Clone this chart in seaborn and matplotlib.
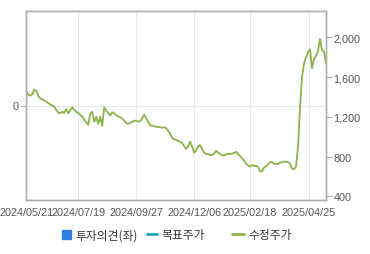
import matplotlib
matplotlib.use("Agg")
import matplotlib.pyplot as plt
import seaborn as sns
import pandas as pd
from matplotlib.lines import Line2D
from matplotlib.patches import Patch

# ---- data ----
price = [1464, 1420, 1414, 1425, 1475, 1460, 1410, 1385, 1375, 1365,
         1352, 1340, 1325, 1315, 1300, 1270, 1240, 1238, 1250, 1240,
         1280, 1235, 1265, 1297, 1270, 1250, 1240, 1220, 1200, 1170,
         1145, 1120, 1230, 1250, 1150, 1200, 1130, 1200, 1110, 1297,
         1260, 1240, 1212, 1245, 1235, 1215, 1205, 1196, 1185, 1160,
         1140, 1129, 1140, 1150, 1160, 1162, 1150, 1158, 1185, 1220,
         1185, 1150, 1115, 1112, 1105, 1098, 1100, 1095, 1090, 1095,
         1085, 1060, 1025, 990, 975, 968, 958, 948, 935, 905,
         877, 905, 950, 900, 840, 860, 905, 915, 878, 840,
         826, 825, 815, 815, 830, 858, 840, 828, 812, 812,
         825, 828, 826, 830, 838, 848, 825, 803, 785, 758,
         728, 712, 700, 715, 705, 708, 695, 650, 652, 690,
         702, 722, 742, 745, 728, 728, 725, 738, 745, 750,
         748, 745, 728, 680, 672, 700, 900, 1300, 1600, 1734,
         1800, 1850, 1880, 1690, 1780, 1815, 1860, 1986, 1870, 1860,
         1734]
tick_pos = [0, 26, 55, 84, 112, 141.5]
tick_labels = ["2024/05/21", "2024/07/19", "2024/09/27", "2024/12/06",
               "2025/02/18", "2025/04/25"]
right_ticks = [400, 800, 1200, 1600, 2000]
right_tick_labels = ["400", "800", "1,200", "1,600", "2,000"]
legend_labels = ["투자의견(좌)", "목표주가", "수정주가"]

df = pd.DataFrame({"idx": range(len(price)), "price": price})

sns.set_style("white")
plt.rcParams["font.family"] = ["Noto Sans CJK KR", "DejaVu Sans"]

W, H = 370, 255
fig = plt.figure(figsize=(3.7, 2.55), dpi=100)
ax = fig.add_axes([26.3 / W, 1 - 200.7 / H, (326 - 26.3) / W, (200.7 - 12.3) / H])
ax2 = ax.twinx()

line_color = "#8db34a"
sns.lineplot(data=df, x="idx", y="price", ax=ax2, color=line_color, linewidth=1.3)

edge = "#b0b0b0"
tick_col = "#555555"

ax.set_xlim(0, len(price) - 1)
ax.set_ylim(-1, 1)
ax.set_yticks([0])
ax.set_yticklabels(["0"])
ax.set_xticks(tick_pos)
ax.set_xticklabels(tick_labels)
ax.grid(True, color="#e6e6e6", linewidth=0.8)
ax.set_axisbelow(True)

ax2.set_ylim(366, 2262)
ax2.set_yticks(right_ticks)
ax2.set_yticklabels(right_tick_labels)
ax2.set_xlabel("")
ax2.set_ylabel("")
ax.set_xlabel("")
ax.set_ylabel("")

for a in (ax, ax2):
    for s in a.spines.values():
        s.set_color(edge)
        s.set_linewidth(1.0)
        s.set_visible(True)
    a.tick_params(colors=edge, labelcolor=tick_col, labelsize=7.8, length=4, width=0.8, pad=1.5)

for lbl in ax.get_xticklabels() + ax.get_yticklabels() + ax2.get_yticklabels():
    lbl.set_family(["Liberation Sans", "DejaVu Sans"])

handles = [
    Patch(facecolor="#2f7de1", edgecolor="#2f7de1"),
    Line2D([0], [0], color="#22a6c8", linewidth=2),
    Line2D([0], [0], color=line_color, linewidth=2),
]
# handle start x positions (pixels) and handle lengths (in font-size units)
leg_x = [62, 147, 232]
leg_len = [0.75, 0.85, 1.05]
for h, lab, x0, hl in zip(handles, legend_labels, leg_x, leg_len):
    leg = fig.legend([h], [lab], loc="center left", bbox_to_anchor=(x0 / W, 1 - 236 / H),
                     frameon=False, fontsize=8.5, handlelength=hl, handleheight=0.8,
                     handletextpad=0.35, borderpad=0, borderaxespad=0)
    for t in leg.get_texts():
        t.set_color("#333333")

fig.savefig("out.png", dpi=100)
